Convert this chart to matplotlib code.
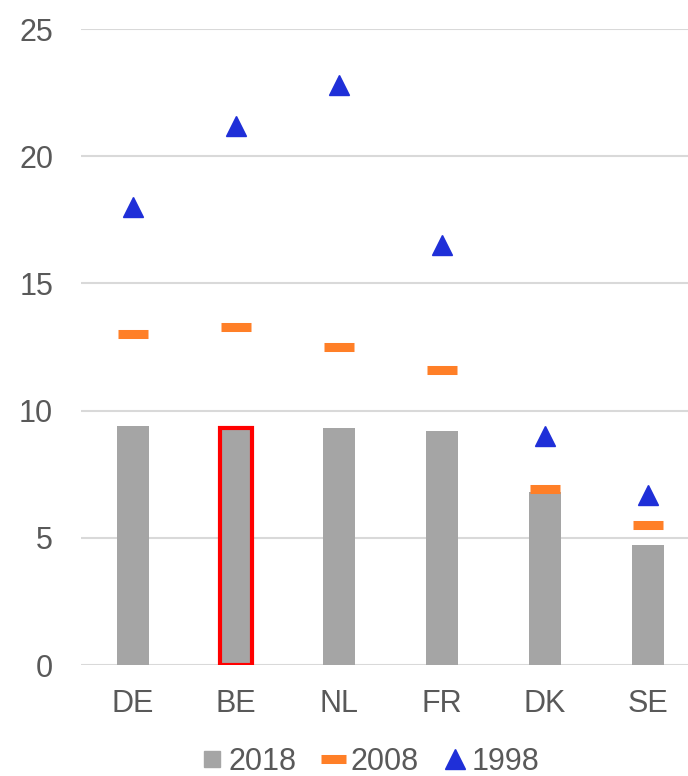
import matplotlib.pyplot as plt
from matplotlib.lines import Line2D

# 数据
countries = ['DE', 'BE', 'NL', 'FR', 'DK', 'SE']
v2018 = [9.4, 9.3, 9.3, 9.2, 6.8, 4.7]
v2008 = [13.0, 13.3, 12.5, 11.6, 6.9, 5.5]
v1998 = [18.0, 21.2, 22.8, 16.5, 9.0, 6.7]
highlight = 'BE'

GRAY = '#a5a5a5'
ORANGE = '#ff7f27'
BLUE = '#1f2fd8'
TEXT = '#595959'

plt.rcParams['font.family'] = ['Liberation Sans', 'DejaVu Sans']

fig = plt.figure(figsize=(6.88, 7.76), dpi=100)
ax = fig.add_axes([0.1177, 0.143, 0.8823, 0.8196])

x = list(range(len(countries)))

# 柱状图 2018
bars = ax.bar(x, v2018, width=0.31, color=GRAY, zorder=2)
for b, c in zip(bars, countries):
    if c == highlight:
        b.set_edgecolor('#ff0000')
        b.set_linewidth(3.0)

# 2008 横线标记
ax.plot(x, v2008, linestyle='none', marker='_', markersize=21.5,
        markeredgewidth=6.5, color=ORANGE, zorder=3)

# 1998 三角标记
ax.plot(x, v1998, linestyle='none', marker='^', markersize=14.5,
        color=BLUE, zorder=3)

ax.set_xlim(-0.505, 5.39)
ax.set_ylim(0, 25)
ax.set_yticks([0, 5, 10, 15, 20, 25])
ax.set_xticks(x)
ax.set_xticklabels(countries)

ax.yaxis.grid(True, color='#d9d9d9', linewidth=1.5, zorder=0)
ax.set_axisbelow(True)
for s in ax.spines.values():
    s.set_visible(False)
ax.tick_params(axis='both', length=0, labelsize=22, colors=TEXT)
ax.tick_params(axis='y', pad=20)
ax.tick_params(axis='x', pad=17)

handles = [
    Line2D([], [], linestyle='none', marker='s', markersize=12, color=GRAY),
    Line2D([], [], linestyle='none', marker='_', markersize=18,
           markeredgewidth=6.5, color=ORANGE),
    Line2D([], [], linestyle='none', marker='^', markersize=15, color=BLUE),
]
fig.legend(handles, ['2018', '2008', '1998'], loc='center',
           bbox_to_anchor=(0.537, 0.018), ncol=3, frameon=False,
           fontsize=22, labelcolor=TEXT, handlelength=0.8,
           handletextpad=0.15, columnspacing=0.8)

fig.savefig('out.png', dpi=100)
